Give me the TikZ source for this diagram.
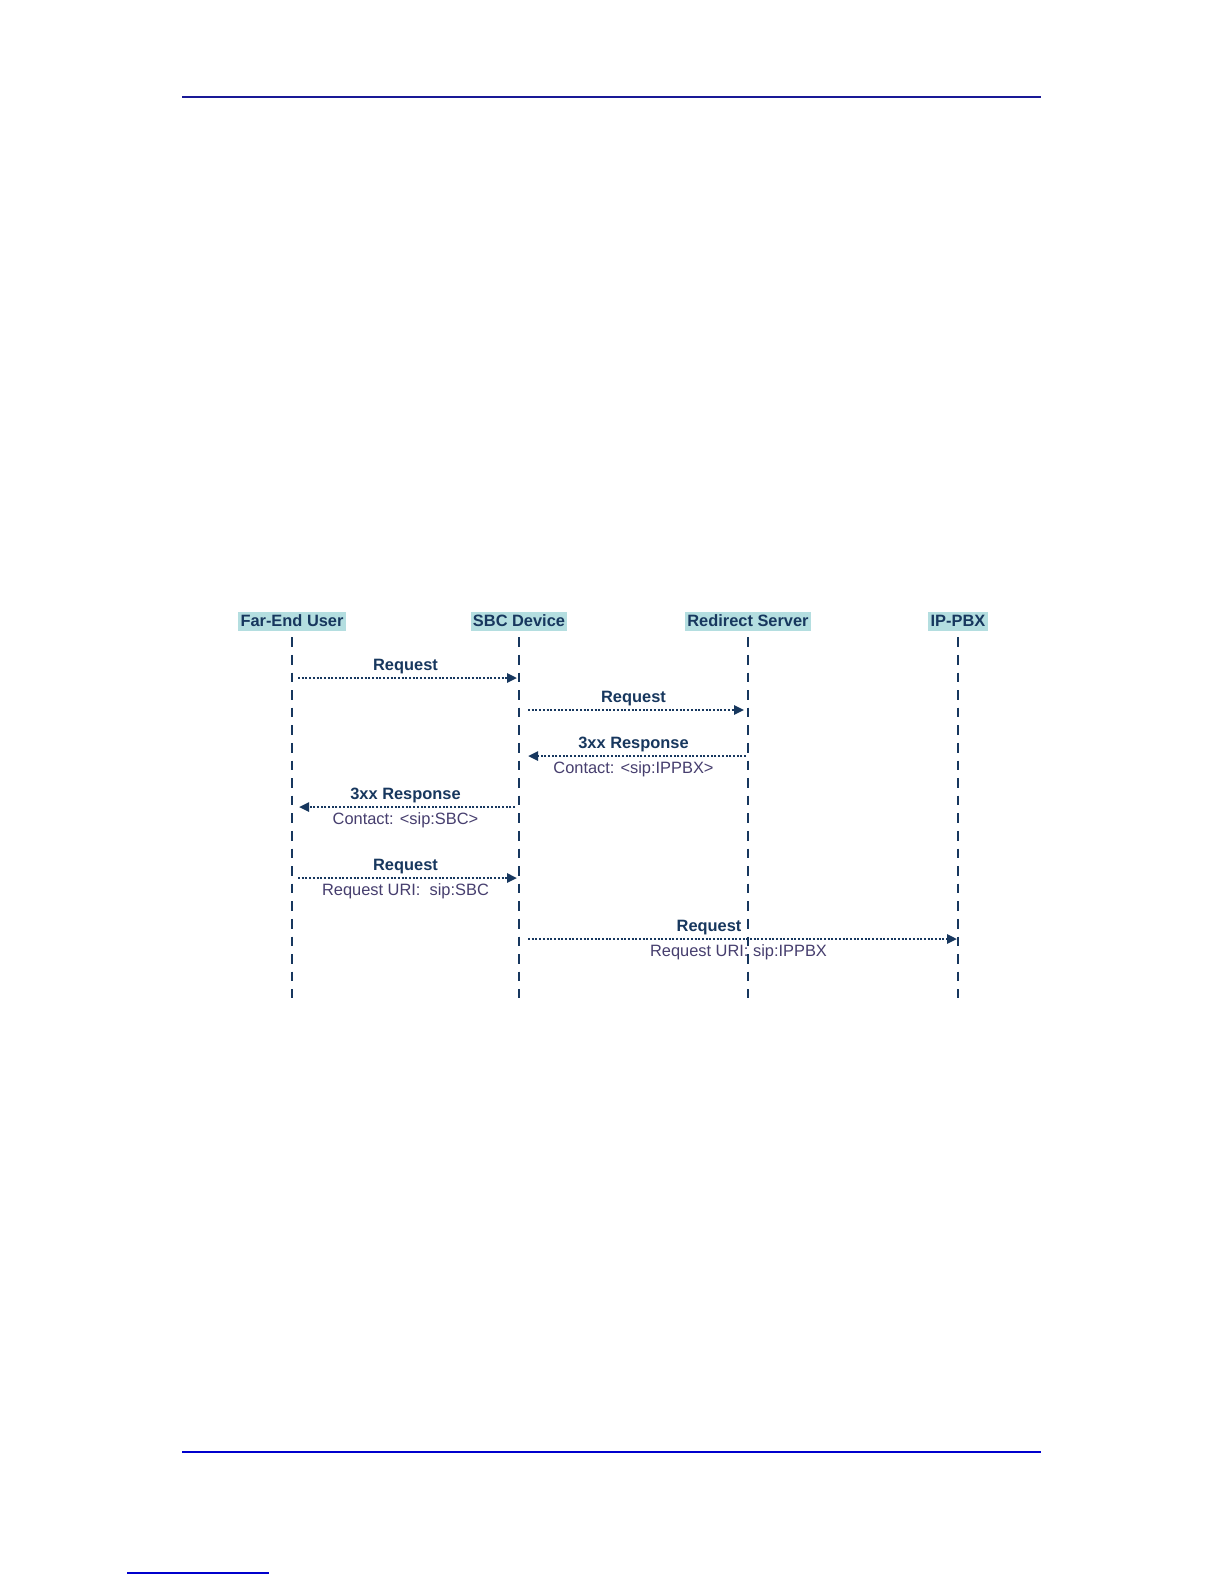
\documentclass[tikz,border=0pt]{standalone}
\usepackage{fontspec}
\setmainfont{Liberation Sans}
\usetikzlibrary{arrows.meta, positioning, calc}
\definecolor{lineColor}{RGB}{23,55,94}
\definecolor{headFill}{RGB}{180,222,224}
\definecolor{noteColor}{RGB}{70,62,110}
\definecolor{ruleTop}{RGB}{25,25,150}
\definecolor{ruleBottom}{RGB}{0,0,205}
\tikzstyle{entity} = [rectangle, fill=headFill, text=lineColor, font=\fontsize{8.2}{9.8}\selectfont\bfseries, inner xsep=1.2pt, inner ysep=1pt, minimum height=9.5pt]
\tikzstyle{lifeline} = [lineColor, line width=1.3pt, dash pattern=on 4.8pt off 4pt]
\tikzstyle{msg} = [lineColor, line width=1.2pt, dash pattern=on 1pt off 0.85pt, -{Triangle[length=5pt,width=4.5pt]}]
\tikzstyle{title} = [text=lineColor, font=\fontsize{8.2}{9.8}\selectfont\bfseries, anchor=base, yshift=4pt, inner sep=0pt]
\tikzstyle{note} = [text=noteColor, font=\fontsize{8.2}{9.8}\selectfont, anchor=base, yshift=-8.7pt, inner sep=0pt]

\begin{document}
\begin{tikzpicture}[x=0.5pt, y=-0.5pt]
            \useasboundingbox[fill=white] (0,0) rectangle (1224,1584);

            % Page rules
            \draw [ruleTop, line width=0.8pt] (182,97) -- (1041,97);
            \draw [ruleBottom, line width=1.4pt] (182,1452) -- (1041,1452);
            \draw [ruleBottom, line width=0.7pt] (127,1573) -- (269,1573);

            % Entities
            \node (fe) [entity] at (292,621) {Far-End User};
            \node (sbc) [entity] at (519,621) {SBC Device};
            \node (rs) [entity] at (748,621) {Redirect Server};
            \node (pbx) [entity] at (958,621) {IP-PBX};

            \coordinate (bottom) at (0,998);
            \foreach \n in {fe, sbc, rs, pbx}
                \draw [lifeline] ([yshift=-3.2pt]\n.south) -- (\n |- bottom);

            % Message rows
            \coordinate (r1) at (0,678);
            \coordinate (r2) at (0,710);
            \coordinate (r3) at (0,756);
            \coordinate (r4) at (0,807);
            \coordinate (r5) at (0,878);
            \coordinate (r6) at (0,939);

            \draw [msg, shorten <=3pt, shorten >=1pt] (fe |- r1) -- node[title] {Request} (sbc |- r1);
            \draw [msg, shorten <=4.5pt, shorten >=2pt] (sbc |- r2) -- node[title] {Request} (rs |- r2);
            \draw [msg, shorten <=1pt, shorten >=4.5pt] (rs |- r3) -- node[title] {3xx Response} node[note] {Contact: <sip:IPPBX>} (sbc |- r3);
            \draw [msg, shorten <=2pt, shorten >=3.5pt] (sbc |- r4) -- node[title] {3xx Response} node[note] {Contact: <sip:SBC>} (fe |- r4);
            \draw [msg, shorten <=3pt, shorten >=1pt] (fe |- r5) -- node[title] {Request} node[note] {Request URI:\ \ sip:SBC} (sbc |- r5);
            \draw [msg, shorten <=4.5pt, shorten >=0.5pt] (sbc |- r6) -- node[title, pos=0.433] {Request} node[note, pos=0.5] {Request URI: sip:IPPBX} (pbx |- r6);
        \end{tikzpicture}
\end{document}
